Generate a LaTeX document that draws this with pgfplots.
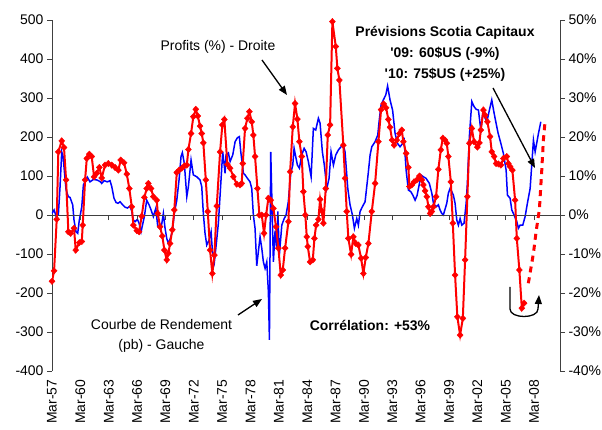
\documentclass[border=0pt]{standalone}
\usepackage{fontspec}
\setmainfont{Liberation Sans}
\usepackage{pgfplots}
\pgfplotsset{compat=1.18}
\usetikzlibrary{arrows.meta}

\definecolor{xlred}{RGB}{255,0,0}
\definecolor{xlblue}{RGB}{0,0,255}
\newcommand\fs{\fontsize{14}{16}\selectfont}

\pgfplotsset{
  common/.style={
    scale only axis, width=508bp, height=351bp,
    xmin=1957.06, xmax=2010.8,
    xtick={1957.06,1960.06,...,2008.1},
    tick align=outside, major tick length=5bp,
    axis line style={black!75, line width=0.9bp},
    every tick/.style={black!75, line width=0.9bp},
    every tick label/.append style={font=\fs},
    /pgf/number format/assume math mode=true,
  },
}

\begin{document}
\begin{tikzpicture}
% left scale: yield curve (pb)
\begin{axis}[common,
  ymin=-400, ymax=500, ytick={-400,-300,...,500},
  axis y line*=left, axis x line*=bottom,
  x axis line style={draw=none},
  xtick style={draw=none},
  xticklabels={Mar-57,Mar-60,Mar-63,Mar-66,Mar-69,Mar-72,Mar-75,Mar-78,Mar-81,Mar-84,Mar-87,Mar-90,Mar-93,Mar-96,Mar-99,Mar-02,Mar-05,Mar-08},
  xticklabel style={rotate=90, anchor=east},
]
\addplot[xlblue, line width=1.5bp] coordinates {
(1957.06,4) (1957.28,13) (1957.49,-3) (1957.73,0) (1957.91,72) (1958.09,162)
(1958.23,150) (1958.55,64) (1958.79,47) (1958.97,45) (1959.25,26) (1959.39,-13)
(1959.60,-43) (1959.78,-47) (1959.95,-13) (1960.21,21) (1960.38,77) (1960.66,90)
(1960.80,97) (1961.08,85) (1961.43,91) (1961.79,90) (1962.14,86) (1962.32,81)
(1962.57,88) (1962.91,85) (1963.20,88) (1963.38,73) (1963.62,43) (1963.84,32)
(1964.05,30) (1964.26,34) (1964.54,26) (1964.79,20) (1965.05,18) (1965.32,23)
(1965.50,9) (1965.67,-13) (1965.85,-17) (1966.09,-11) (1966.27,-21) (1966.48,-43)
(1966.83,-4) (1967.08,38) (1967.33,26) (1967.54,13) (1967.78,-4) (1968.04,17)
(1968.25,-30) (1968.60,-34) (1968.84,4) (1969.02,-34) (1969.20,-60) (1969.37,-73)
(1969.55,-62) (1969.79,-43) (1970.00,4) (1970.26,38) (1970.50,90) (1970.71,150)
(1970.85,160) (1971.06,132) (1971.32,47) (1971.49,73) (1971.77,141) (1972.01,103)
(1972.37,98) (1972.72,90) (1972.90,73) (1973.07,4) (1973.25,-47) (1973.43,-77)
(1973.68,-64) (1973.89,-43) (1974.02,-90) (1974.24,-120) (1974.41,-81) (1974.66,-21)
(1974.94,90) (1975.12,162) (1975.37,107) (1975.47,154) (1975.72,159) (1975.90,137)
(1976.18,154) (1976.43,188) (1976.67,198) (1976.88,201) (1977.03,162) (1977.31,107)
(1977.48,103) (1977.73,94) (1978.01,85) (1978.19,68) (1978.36,0) (1978.54,-34)
(1978.72,-130) (1978.89,-94) (1979.07,-56) (1979.25,-85) (1979.42,-120) (1979.60,-137)
(1979.78,-120) (1979.95,-197) (1980.06,-320) (1980.20,162) (1980.48,-120) (1980.66,-40)
(1980.84,-85) (1980.95,9) (1981.11,-103) (1981.37,-26) (1981.61,-10) (1981.82,0)
(1982.06,34) (1982.32,107) (1982.53,128) (1982.67,171) (1982.88,145) (1983.02,128)
(1983.23,120) (1983.48,154) (1983.73,171) (1983.94,162) (1984.18,137) (1984.47,98)
(1984.71,222) (1984.96,218) (1985.24,248) (1985.42,235) (1985.66,162) (1985.87,128)
(1986.13,68) (1986.37,94) (1986.58,162) (1986.83,128) (1987.08,154) (1987.36,167)
(1987.64,175) (1987.88,179) (1988.06,162) (1988.35,68) (1988.59,26) (1988.84,0)
(1989.05,-34) (1989.30,-9) (1989.47,-26) (1989.65,9) (1989.89,21) (1990.18,34)
(1990.53,111) (1990.71,154) (1990.89,175) (1991.24,188) (1991.52,205) (1991.66,239)
(1991.87,282) (1992.11,295) (1992.37,308) (1992.56,331) (1992.82,295) (1993.09,269)
(1993.35,210) (1993.60,184) (1993.88,175) (1994.17,184) (1994.31,192) (1994.52,115)
(1994.76,64) (1995.01,60) (1995.23,51) (1995.47,38) (1995.68,50) (1995.93,81)
(1996.07,103) (1996.35,98) (1996.63,94) (1996.98,81) (1997.24,56) (1997.41,30)
(1997.69,21) (1997.93,26) (1998.11,13) (1998.29,4) (1998.46,0) (1998.82,30)
(1998.99,56) (1999.17,68) (1999.35,60) (1999.52,51) (1999.70,30) (1999.88,-13)
(2000.05,-26) (2000.23,-9) (2000.41,-26) (2000.65,-21) (2000.87,30) (2001.00,81)
(2001.21,201) (2001.47,291) (2001.71,278) (2001.93,271) (2002.17,269) (2002.42,218)
(2002.63,261) (2003.06,239) (2003.33,269) (2003.58,295) (2003.83,261) (2004.04,235)
(2004.25,210) (2004.54,184) (2004.81,158) (2005.10,115) (2005.24,51) (2005.52,43)
(2005.70,13) (2005.94,0) (2006.23,-17) (2006.40,-34) (2006.58,-26) (2006.86,-26)
(2007.11,-4) (2007.35,30) (2007.64,68) (2007.82,132) (2007.99,192) (2008.17,162)
(2008.52,209) (2008.77,239)
};
\end{axis}
% right scale: profits (%)
\begin{axis}[common,
  ymin=-40, ymax=50, ytick={-40,-30,...,50},
  axis y line*=right, axis x line*=middle,
  xticklabels={},
  yticklabel={\pgfmathprintnumber{\tick}\%},
]
\addplot[xlred, line width=2bp, mark=diamond*, mark size=3.2bp,
  mark options={solid, xscale=1.25, fill=xlred, draw=xlred, line width=0.4bp}] coordinates {
(1957.06,-17.0) (1957.28,-14.3) (1957.56,-1.1) (1957.73,16.2) (1958.09,19.0) (1958.33,17.3)
(1958.55,9.0) (1958.79,-4.3) (1959.04,-4.7) (1959.39,-3.4) (1959.57,-9.0) (1959.95,-7.1)
(1960.21,-6.8) (1960.31,-2.6) (1960.56,9.0) (1960.74,14.5) (1961.01,15.6) (1961.26,15.0)
(1961.51,9.8) (1961.79,10.7) (1962.07,12.2) (1962.32,9.5) (1962.67,12.8) (1963.02,13.2)
(1963.38,12.8) (1963.73,12.2) (1964.08,11.5) (1964.33,14.1) (1964.68,13.4) (1964.97,10.5)
(1965.24,6.8) (1965.50,2.1) (1965.67,-2.6) (1966.03,-4.0) (1966.27,-4.3) (1966.55,-0.3)
(1966.83,4.5) (1967.08,6.8) (1967.25,8.1) (1967.54,6.8) (1967.78,4.7) (1968.14,3.8)
(1968.25,0.4) (1968.49,-3.0) (1968.73,-5.4) (1968.95,-9.0) (1969.20,-11.5) (1969.37,-9.8)
(1969.55,-7.3) (1969.79,-3.8) (1970.00,1.3) (1970.26,10.9) (1970.50,11.5) (1970.79,12.0)
(1971.06,12.6) (1971.32,12.8) (1971.49,16.8) (1971.77,20.9) (1972.01,25.2) (1972.27,27.1)
(1972.48,25.4) (1972.72,22.8) (1972.90,20.9) (1973.07,18.5) (1973.33,9.0) (1973.54,0.9)
(1973.78,-9.0) (1974.02,-15.0) (1974.24,-10.3) (1974.49,2.3) (1974.84,16.2) (1975.08,23.1)
(1975.29,24.5) (1975.61,13.0) (1975.90,12.0) (1976.25,9.8) (1976.61,7.9) (1976.95,7.7)
(1977.13,8.1) (1977.24,13.2) (1977.48,22.2) (1977.73,24.8) (1977.94,26.5) (1978.19,23.9)
(1978.36,20.5) (1978.54,15.0) (1978.79,6.8) (1979.00,0.0) (1979.25,0.0) (1979.49,-4.7)
(1979.71,0.0) (1979.95,4.3) (1980.20,3.8) (1980.48,1.7) (1980.76,-3.0) (1981.01,-8.5)
(1981.26,-15.4) (1981.47,-14.1) (1981.72,-8.5) (1982.07,-1.7) (1982.25,11.1) (1982.53,22.6)
(1982.77,28.6) (1983.02,24.6) (1983.23,18.8) (1983.48,15.0) (1983.65,6.0) (1983.86,0.0)
(1984.01,-5.6) (1984.12,-8.1) (1984.36,-12.0) (1984.65,-11.5) (1984.82,-6.0) (1985.00,-2.6)
(1985.24,-1.1) (1985.42,4.0) (1985.60,1.0) (1985.77,-2.1) (1986.02,6.8) (1986.23,20.5)
(1986.48,23.1) (1986.72,49.6) (1987.08,43.2) (1987.25,37.6) (1987.46,34.6) (1987.88,17.9)
(1988.06,9.4) (1988.24,0.9) (1988.41,-6.0) (1988.70,-10.1) (1988.94,-5.6) (1989.20,-7.3)
(1989.47,-7.7) (1989.76,-11.1) (1990.00,-15.0) (1990.25,-10.9) (1990.53,-7.3) (1990.89,0.9)
(1991.24,8.1) (1991.59,18.8) (1991.87,27.0) (1992.14,28.5) (1992.40,27.5) (1992.64,24.5)
(1992.82,22.5) (1993.04,19.2) (1993.25,17.9) (1993.53,19.2) (1993.81,20.9) (1994.06,21.8)
(1994.23,18.8) (1994.52,15.8) (1994.76,12.2) (1994.87,7.3) (1995.12,7.7) (1995.36,8.5)
(1995.65,9.0) (1995.93,10.0) (1996.18,9.0) (1996.35,7.7) (1996.53,6.2) (1996.71,4.7)
(1996.88,2.1) (1997.06,0.4) (1997.24,0.9) (1997.41,2.1) (1997.69,4.7) (1997.93,11.7)
(1998.19,16.7) (1998.40,19.7) (1998.64,19.2) (1998.82,18.4) (1998.99,15.0) (1999.25,8.5)
(1999.46,-2.1) (1999.70,-15.4) (1999.94,-26.1) (2000.23,-30.8) (2000.52,-26.5) (2000.76,-11.5)
(2001.00,4.7) (2001.21,18.4) (2001.47,22.2) (2001.71,18.8) (2002.06,17.4) (2002.27,18.5)
(2002.42,21.8) (2002.70,26.9) (2002.88,25.6) (2003.12,23.9) (2003.40,20.1) (2003.58,16.2)
(2003.83,15.0) (2004.04,13.2) (2004.28,13.1) (2004.54,12.8) (2004.81,14.5) (2005.17,15.0)
(2005.34,13.2) (2005.52,12.4) (2005.76,11.5) (2006.05,3.8) (2006.23,-6.0) (2006.50,-14.1)
(2006.76,-23.9) (2007.00,-22.6)
};
% forecast
\addplot[xlred, line width=3bp, dash pattern=on 6bp off 5bp] coordinates {
(2007.45,-17.5) (2007.99,-9.8) (2008.27,-4.3) (2008.62,1.5) (2008.87,11.5) (2009.04,19.2) (2009.22,24.0)
};
\end{axis}

% annotations (bp from the lower left corner of the plot area)
\node[font=\fs] at (166bp,324bp) {Profits (\%) - Droite};
\draw[-{Triangle[length=9bp,width=7bp]}, line width=1.3bp] (210bp,311bp) -- (235bp,276bp);
\node[font=\fontsize{14}{21}\selectfont\bfseries, align=center] at (393bp,317bp)
  {Prévisions Scotia Capitaux\\\textquotesingle09: 60\$US (-9\%)\\\textquotesingle10: 75\$US (+25\%)};
\draw[-{Triangle[length=9bp,width=7bp]}, line width=1.3bp] (441bp,283bp) -- (483bp,203bp);
\node[font=\fontsize{14}{19.5}\selectfont, align=center] at (109.5bp,35bp)
  {Courbe de Rendement\\(pb) - Gauche};
\draw[-{Triangle[length=9bp,width=7bp]}, line width=1.3bp] (186bp,56bp) -- (210bp,72bp);
\node[font=\fs\bfseries] at (318bp,46bp) {Corrélation: +53\%};
\draw[-{Triangle[length=9bp,width=7bp]}, line width=1.3bp]
  (458bp,84bp) -- (458bp,62bp) .. controls (458bp,52bp) and (486bp,52bp) .. (486bp,62bp) -- (487bp,76bp);

\pgfresetboundingbox
\path (-52bp,-59bp) rectangle (550bp,371bp);
\end{tikzpicture}
\end{document}
